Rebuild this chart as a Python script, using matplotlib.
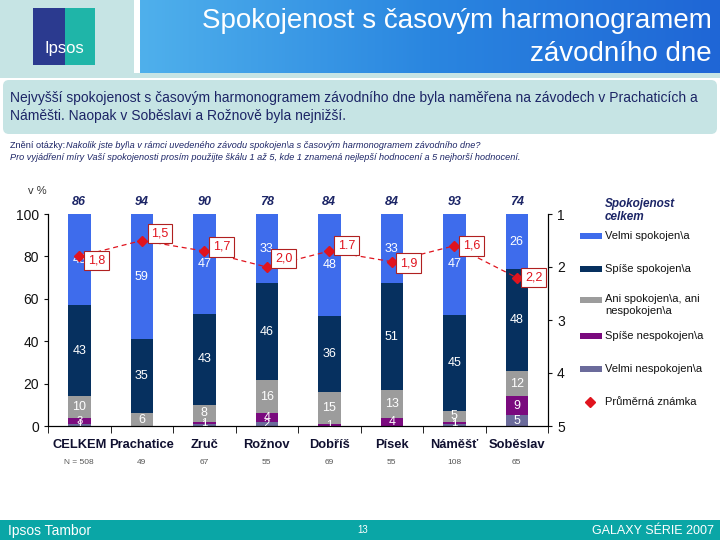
import numpy as np
import matplotlib
matplotlib.use("Agg")
import matplotlib.pyplot as plt
from matplotlib.patches import Rectangle, FancyBboxPatch
from matplotlib.transforms import blended_transform_factory

plt.rcParams["font.family"] = ["Liberation Sans", "DejaVu Sans"]

# --- data -------------------------------------------------------------
cities = ["CELKEM", "Prachatice", "Zruč", "Rožnov", "Dobříš", "Písek", "Náměšť", "Soběslav"]
n_resp = ["N = 508", "49", "67", "55", "69", "55", "108", "65"]
velmi_nesp = [1, 0, 1, 2, 0, 0, 1, 5]
spise_nesp = [3, 0, 1, 4, 1, 4, 1, 9]
ani = [10, 6, 8, 16, 15, 13, 5, 12]
spise_spok = [43, 35, 43, 46, 36, 51, 45, 48]
velmi_spok = [43, 59, 47, 33, 48, 33, 47, 26]
top_share = [86, 94, 90, 78, 84, 84, 93, 74]
avg_grade = [1.8, 1.5, 1.7, 2.0, 1.7, 1.9, 1.6, 2.2]
avg_label = ["1,8", "1,5", "1,7", "2,0", "1.7", "1,9", "1,6", "2,2"]

series = [
    ("Velmi nespokojen\\a", velmi_nesp, "#6b6b9b"),
    ("Spíše nespokojen\\a", spise_nesp, "#7a0a7e"),
    ("Ani spokojen\\a, ani\nnespokojen\\a", ani, "#9c9c9c"),
    ("Spíše spokojen\\a", spise_spok, "#06305f"),
    ("Velmi spokojen\\a", velmi_spok, "#3e6cec"),
]
RED = "#e0141e"
NAVY = "#1c2566"
NARROW = ["Liberation Sans Narrow", "Liberation Sans"]

fig = plt.figure(figsize=(7.2, 5.4), dpi=100)

# --- background decoration (pixel coords) ------------------------------
bg = fig.add_axes([0, 0, 1, 1], zorder=0)
bg.set_xlim(0, 720)
bg.set_ylim(540, 0)
bg.axis("off")
bg.add_patch(Rectangle((0, 0), 720, 78, color="#c6e4e4", lw=0))
bg.add_patch(Rectangle((134, 0), 6, 73, color="white", lw=0))
grad = np.linspace(0, 1, 256).reshape(1, -1)
bg.imshow(grad, extent=(140, 720, 73, 0), aspect="auto",
          cmap=matplotlib.colors.LinearSegmentedColormap.from_list(
              "hdr", ["#4fb0ec", "#2a86e0", "#1f66d6"]), zorder=1)
bg.set_xlim(0, 720)
bg.set_ylim(540, 0)
bg.add_patch(FancyBboxPatch((3, 80), 714, 54, boxstyle="round,pad=0,rounding_size=6",
                            fc="#c6e4e4", ec="none"))
# logo
bg.add_patch(Rectangle((33, 8), 62, 57, color="#2b3a8f", lw=0, zorder=2))
bg.add_patch(Rectangle((65, 8), 30, 57, color="#1fb5a8", lw=0, zorder=2))
bg.text(64, 49, "Ipsos", color="white", fontsize=12, ha="center", va="center",
        family=NARROW, zorder=3)
# footer
bg.add_patch(Rectangle((0, 520), 720, 20, color="#0aa6a6", lw=0))
bg.text(8, 531, "Ipsos Tambor", color="white", fontsize=10, va="center", family=NARROW)
bg.text(363, 530, "13", color="white", fontsize=7, va="center", ha="center")
bg.text(714, 531, "GALAXY SÉRIE 2007", color="white", fontsize=9, va="center",
        ha="right", family=NARROW)

# header texts
bg.text(712, 21, "Spokojenost s časovým harmonogramem", color="white",
        fontsize=20, ha="right", va="center", zorder=3)
bg.text(712, 54, "závodního dne", color="white", fontsize=20, ha="right",
        va="center", zorder=3)
bg.text(10, 98, "Nejvyšší spokojenost s časovým harmonogramem závodního dne byla "
        "naměřena na závodech v Prachaticích a", color=NAVY, fontsize=10, va="center")
bg.text(10, 116, "Náměšti. Naopak v Soběslavi a Rožnově byla nejnižší.",
        color=NAVY, fontsize=10, va="center")
bg.text(10, 146, "Znění otázky: ", color=NAVY, fontsize=6.6, va="center")
bg.text(66, 146, "Nakolik jste byl\\a v rámci uvedeného závodu spokojen\\a s časovým "
        "harmonogramem závodního dne?", color=NAVY, fontsize=6.6, va="center", style="italic")
bg.text(10, 158, "Pro vyjádření míry Vaší spokojenosti prosím použijte škálu 1 až 5, kde "
        "1 znamená nejlepší hodnocení a 5 nejhorší hodnocení.", color=NAVY,
        fontsize=6.6, va="center", style="italic")
bg.text(28, 191, "v %", color="#333333", fontsize=8, va="center")

# --- chart --------------------------------------------------------------
ax = fig.add_axes([48 / 720, 1 - 426 / 540, 500 / 720, 212 / 540], zorder=2)
ax.patch.set_alpha(0)
x = np.arange(len(cities))
totals = np.sum([np.array(v, dtype=float) for _, v, _ in series], axis=0)
bottom = np.zeros(len(cities))
for name, vals, col in series:
    raw = np.array(vals, dtype=float)
    h = raw / totals * 100  # 100 % stacked, as in the source chart
    ax.bar(x, h, 0.36, bottom=bottom, color=col, lw=0)
    for xi, b, hv, v in zip(x, bottom, h, raw):
        if v > 0:
            ax.text(xi, b + hv / 2, f"{int(v)}", color="white",
                    fontsize=9 if v > 3 else 8, ha="center", va="center")
    bottom += h

ax.set_xlim(-0.5, len(cities) - 0.5)
ax.set_ylim(0, 100)
ax.set_yticks(range(0, 101, 20))
ax.tick_params(axis="y", labelsize=10, length=3, colors="#111111")
ax.set_xticks(x)
ax.set_xticklabels([])
ax.tick_params(axis="x", length=0)
ax.set_xticks(np.arange(-0.5, len(cities)), minor=True)
ax.tick_params(axis="x", which="minor", length=5, direction="out")
ax.spines["top"].set_visible(False)

tr = blended_transform_factory(ax.transData, ax.transAxes)
for xi, (c, n, t) in enumerate(zip(cities, n_resp, top_share)):
    ax.text(xi, 1.055, str(t), transform=tr, ha="center", va="center",
            fontsize=9, weight="bold", style="italic", color=NAVY)
    ax.text(xi, -0.088, c, transform=tr, ha="center", va="center", fontsize=9.3,
            weight="bold", color="#101030", family=NARROW)
    ax.text(xi, -0.17, n, transform=tr, ha="center", va="center", fontsize=6,
            color="#555555")

ax2 = ax.twinx()
ax2.set_ylim(5, 1)
ax2.set_yticks([1, 2, 3, 4, 5])
ax2.tick_params(axis="y", labelsize=10, length=3, colors="#111111")
ax2.spines["top"].set_visible(False)
ax2.plot(x, avg_grade, color=RED, ls=(0, (4, 3)), lw=0.9, marker="D", ms=5,
         mec=RED, mfc=RED)
offs = [(6, -3), (7, 5), (6, 3), (6, 6), (6, 4), (6, -1), (6, 0), (6, 0)]
for xi, g, lab, (dx, dy) in zip(x, avg_grade, avg_label, offs):
    ax2.annotate(lab, (xi, g), xytext=(dx, dy), textcoords="offset points",
                 ha="left", va="center", fontsize=9, color=RED,
                 bbox=dict(boxstyle="square,pad=0.3", fc="white", ec="#b02020", lw=0.8))

# legend drawn manually
bg.text(605, 204, "Spokojenost", fontsize=8.5, weight="bold", style="italic",
        color=NAVY, va="center")
bg.text(605, 217, "celkem", fontsize=8.5, weight="bold", style="italic",
        color=NAVY, va="center")
leg_y = {"Velmi spokojen\\a": 236, "Spíše spokojen\\a": 269,
         "Ani spokojen\\a, ani\nnespokojen\\a": 300, "Spíše nespokojen\\a": 336,
         "Velmi nespokojen\\a": 369}
for name, vals, col in series:
    yy = leg_y[name]
    bg.add_patch(Rectangle((580, yy - 3), 22, 6, color=col, lw=0))
    va = "top" if "\n" in name else "center"
    bg.text(605, yy - 6 if va == "top" else yy, name, fontsize=8, va=va,
            color="#111111", linespacing=1.25)
bg.plot([590], [402], marker="D", color=RED, ms=5)
bg.text(605, 402, "Průměrná známka", fontsize=8, va="center", color="#111111")

fig.savefig("out.png", dpi=100)
